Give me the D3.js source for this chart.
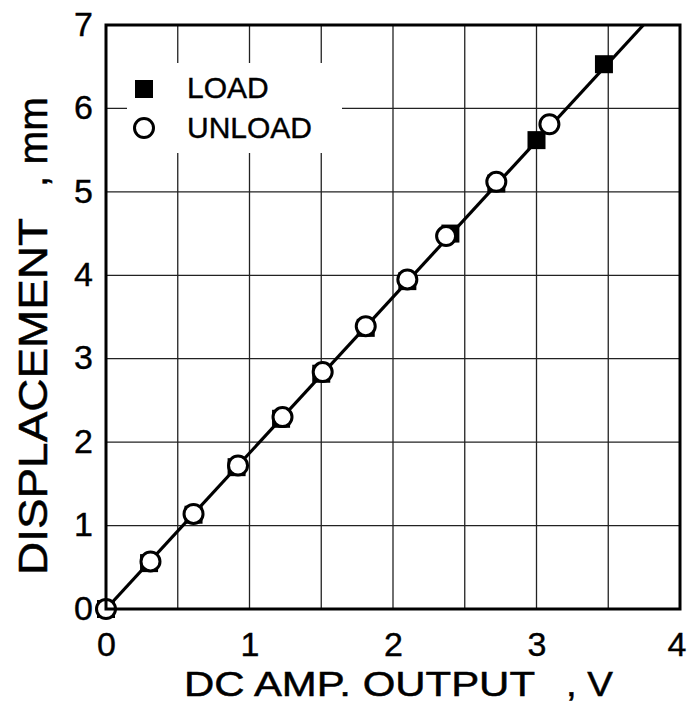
<!DOCTYPE html>
<html><head><meta charset="utf-8">
<script src="https://cdn.jsdelivr.net/npm/d3@7"></script>
<style>html,body{margin:0;padding:0;background:#fff;}svg{display:block;}</style>
</head><body>
<svg id="c" width="688" height="719"></svg>
<script>
const xTicks = [0, 1, 2, 3, 4];
const yTicks = [0, 1, 2, 3, 4, 5, 6, 7];
const xGrid = [0.5, 1, 1.5, 2, 2.5, 3, 3.5];
const yGrid = [1, 2, 3, 4, 5, 6];
const loadV = [0, 0.30, 0.61, 0.91, 1.22, 1.50, 1.81, 2.10, 2.40, 2.72, 3.00, 3.47];
const loadD = [0, 0.55, 1.13, 1.70, 2.28, 2.82, 3.37, 3.93, 4.50, 5.10, 5.62, 6.53];
const unloadV = [0, 0.31, 0.61, 0.92, 1.23, 1.51, 1.81, 2.10, 2.37, 2.72, 3.09];
const unloadD = [0, 0.57, 1.14, 1.72, 2.30, 2.84, 3.39, 3.95, 4.47, 5.12, 5.81];
const fitV = [0, 3.745];
const fitD = [0, 7];
const legendLabels = ["LOAD", "UNLOAD"];

const svg = d3.select("#c");
const L = 106, R = 680, T = 25, B = 609;
const x = d3.scaleLinear().domain([0, 4]).range([L, R]);
const y = d3.scaleLinear().domain([0, 7]).range([B, T]);
const font = "'Liberation Sans', Arial, Helvetica, sans-serif";

// grid
const g = svg.append("g");
g.selectAll(".vg").data(xGrid).join("line")
  .attr("x1", d => x(d)).attr("x2", d => x(d)).attr("y1", T).attr("y2", B)
  .attr("stroke", "#222").attr("stroke-width", 1.3);
g.selectAll(".hg").data(yGrid).join("line")
  .attr("x1", L).attr("x2", R).attr("y1", d => y(d)).attr("y2", d => y(d))
  .attr("stroke", "#222").attr("stroke-width", 1.3);

// legend background
svg.append("rect").attr("x", 127).attr("y", 63).attr("width", 215).attr("height", 90).attr("fill", "#fff");

// clip
svg.append("clipPath").attr("id", "pc").append("rect")
  .attr("x", L).attr("y", T).attr("width", R - L).attr("height", B - T);

// fit line
const line = d3.line().x(d => x(d[0])).y(d => y(d[1]));
svg.append("path").datum(d3.zip(fitV, fitD)).attr("d", line)
  .attr("clip-path", "url(#pc)")
  .attr("fill", "none").attr("stroke", "#000").attr("stroke-width", 3.2);

// load squares
const s = 18;
svg.selectAll(".sq").data(d3.zip(loadV, loadD)).join("rect")
  .attr("x", d => x(d[0]) - s / 2).attr("y", d => y(d[1]) - s / 2)
  .attr("width", s).attr("height", s).attr("fill", "#000");

// unload circles
svg.selectAll(".ci").data(d3.zip(unloadV, unloadD)).join("circle")
  .attr("cx", d => x(d[0])).attr("cy", d => y(d[1])).attr("r", 9.5)
  .attr("fill", "#fff").attr("stroke", "#000").attr("stroke-width", 3);

// frame
svg.append("rect").attr("x", L).attr("y", T).attr("width", R - L).attr("height", B - T)
  .attr("fill", "none").attr("stroke", "#000").attr("stroke-width", 3);

// axes tick labels via d3 axes
const xAxis = d3.axisBottom(x).tickValues(xTicks).tickSize(0).tickPadding(0).tickFormat(d3.format("d"));
const xa = svg.append("g").attr("transform", `translate(0,${B + 23})`).call(xAxis);
xa.select(".domain").remove();
xa.selectAll("text").attr("font-family", font).attr("font-size", 34).attr("fill", "#000")
  .attr("stroke", "#000").attr("stroke-width", 0.4).attr("dy", "0.71em");
xa.selectAll(".tick").filter(d => d === 4).select("text").attr("text-anchor", "end").attr("dx", 6);

const yAxis = d3.axisLeft(y).tickValues(yTicks).tickSize(0).tickPadding(0).tickFormat(d3.format("d"));
const ya = svg.append("g").attr("transform", `translate(${L - 13},0)`).call(yAxis);
ya.select(".domain").remove();
ya.selectAll("text").attr("font-family", font).attr("font-size", 34).attr("fill", "#000")
  .attr("stroke", "#000").attr("stroke-width", 0.4).attr("dy", "0.3em");

// axis titles
const tAttrs = sel => sel.attr("font-family", font).attr("fill", "#000").attr("stroke", "#000").attr("stroke-width", 0.5)
  .attr("lengthAdjust", "spacingAndGlyphs");
svg.append("text").attr("x", 184).attr("y", 696).attr("font-size", 35)
  .attr("textLength", 351).call(tAttrs).text("DC AMP. OUTPUT");
svg.append("text").attr("x", 566).attr("y", 696).attr("font-size", 35)
  .attr("textLength", 47).call(tAttrs).text(", V");

svg.append("text").attr("transform", "translate(47,575) rotate(-90)").attr("font-size", 40)
  .attr("textLength", 357).call(tAttrs).text("DISPLACEMENT");
svg.append("text").attr("transform", "translate(47,187) rotate(-90)").attr("font-size", 40)
  .attr("textLength", 90).call(tAttrs).text(", mm");

// legend
const lg = svg.append("g");
lg.append("rect").attr("x", 135).attr("y", 80).attr("width", 18).attr("height", 18).attr("fill", "#000");
lg.append("circle").attr("cx", 144).attr("cy", 128).attr("r", 9.5).attr("fill", "#fff").attr("stroke", "#000").attr("stroke-width", 3);
lg.selectAll("text").data(legendLabels).join("text")
  .attr("x", 187).attr("y", (d, i) => 98 + i * 40)
  .attr("font-family", font).attr("font-size", 30).attr("stroke", "#000").attr("stroke-width", 0.4).text(d => d);
</script>
</body></html>
